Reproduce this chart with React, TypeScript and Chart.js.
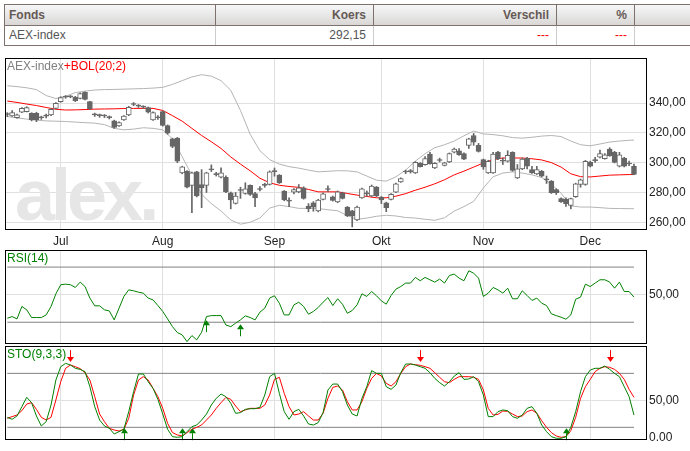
import React, { useEffect, useRef } from "react";
import { Chart, registerables } from "chart.js";

Chart.register(...registerables);

const FONT = '"Liberation Sans", Arial, Helvetica, sans-serif';

// ---------------- data ----------------
const monthLabels = ["Jul", "Aug", "Sep", "Okt", "Nov", "Dec"];
const monthTickIdx = [11, 32, 55, 77, 98, 120];

const opens = [
  332.5, 331.3, 330.2, 333.8, 334.2, 333.1, 333.1, 330.3, 331.2, 332.0,
  336.4, 340.9, 344.0, 344.3, 343.8, 343.1, 347.1, 340.9, 332.2, 331.6,
  331.3, 330.3, 328.0, 324.7, 328.7, 332.0, 339.0, 338.0, 337.4, 336.9,
  328.7, 330.3, 334.2, 324.9, 316.0, 316.4, 293.1, 294.2, 284.7, 293.8,
  285.3, 284.7, 295.2, 292.0, 290.2, 290.2, 279.8, 272.7, 281.3, 279.3,
  284.7, 279.3, 282.0, 284.7, 285.3, 294.0, 291.6, 280.9, 274.4, 280.2,
  280.4, 283.1, 270.9, 273.1, 267.6, 275.3, 282.0, 277.1, 273.6, 279.8,
  270.2, 267.6, 261.6, 276.4, 279.2, 277.6, 283.6, 276.9, 273.1, 275.3,
  280.2, 287.1, 293.7, 294.2, 293.1, 299.6, 298.7, 305.8, 296.4, 301.4,
  298.2, 300.4, 307.1, 308.0, 306.0, 311.6, 318.2, 311.6, 302.0, 293.1,
  293.1, 307.1, 300.9, 300.9, 306.9, 289.8, 295.8, 302.9, 295.3, 292.4,
  294.2, 288.7, 287.6, 282.0, 275.8, 275.3, 271.3, 277.1, 285.3, 285.3,
  300.4, 301.3, 303.6, 302.7, 309.1, 306.9, 297.6, 303.1, 299.2, 297.6,
];
const highs = [
  333.5, 335.0, 332.5, 337.0, 337.5, 333.5, 333.8, 331.2, 332.5, 336.2,
  340.3, 344.2, 345.0, 345.0, 344.5, 346.8, 347.5, 341.2, 333.2, 332.6,
  332.3, 331.3, 328.5, 327.3, 331.6, 337.8, 340.3, 339.0, 338.2, 337.3,
  334.0, 331.5, 334.6, 325.3, 316.4, 316.9, 297.6, 294.6, 293.6, 294.2,
  295.3, 293.6, 298.5, 293.5, 296.5, 291.2, 280.3, 280.0, 283.5, 286.5,
  285.1, 280.0, 284.0, 286.2, 294.5, 296.4, 292.0, 281.3, 276.4, 282.6,
  285.3, 283.8, 272.5, 273.8, 275.4, 279.8, 284.5, 277.6, 281.0, 280.2,
  270.6, 268.0, 270.8, 283.0, 281.0, 285.0, 284.0, 277.3, 273.5, 279.2,
  286.2, 289.8, 295.0, 295.4, 300.7, 300.0, 304.0, 306.9, 300.0, 303.0,
  300.2, 306.5, 309.8, 309.5, 306.5, 316.4, 319.6, 312.9, 302.4, 301.6,
  306.9, 307.6, 303.1, 308.0, 307.3, 298.7, 303.1, 303.5, 297.6, 297.5,
  294.8, 291.0, 288.0, 282.5, 276.4, 276.4, 276.2, 286.2, 289.0, 301.5,
  301.0, 303.5, 308.5, 306.0, 310.0, 307.6, 306.9, 303.6, 301.0, 299.0,
];
const lows = [
  330.8, 331.0, 329.8, 333.5, 334.0, 328.0, 327.5, 329.0, 330.0, 331.5,
  336.0, 340.5, 343.2, 343.5, 341.0, 342.8, 342.0, 335.5, 331.0, 330.4,
  330.2, 329.3, 323.0, 324.3, 328.3, 331.5, 338.2, 337.0, 336.4, 333.3,
  328.3, 329.0, 324.5, 319.0, 310.0, 300.0, 292.5, 283.0, 266.4, 277.0,
  269.8, 280.0, 294.0, 291.0, 289.8, 279.8, 269.0, 272.2, 276.0, 278.8,
  278.0, 270.4, 281.0, 283.5, 285.0, 290.9, 286.0, 274.4, 270.5, 279.0,
  279.8, 275.5, 267.0, 267.4, 267.0, 274.9, 280.5, 274.2, 273.1, 275.6,
  263.8, 256.9, 261.0, 276.0, 277.5, 277.2, 277.2, 272.5, 267.1, 275.0,
  279.9, 286.7, 292.6, 293.0, 292.7, 297.0, 298.3, 298.9, 296.0, 300.4,
  297.8, 300.0, 306.5, 304.9, 302.0, 309.5, 311.6, 307.1, 295.5, 292.7,
  292.7, 302.0, 298.7, 300.4, 294.2, 289.3, 295.3, 295.8, 292.7, 292.0,
  290.4, 286.0, 279.3, 278.6, 273.3, 270.6, 269.0, 276.7, 283.5, 284.8,
  297.1, 300.2, 303.1, 302.3, 304.2, 299.8, 297.1, 297.1, 298.0, 292.0,
];
const closes = [
  332.3, 333.6, 332.0, 336.4, 336.9, 328.7, 328.7, 330.1, 331.4, 335.8,
  339.8, 343.6, 344.3, 344.1, 341.6, 346.4, 342.4, 336.0, 332.0, 331.5,
  331.4, 330.2, 323.6, 326.9, 331.3, 337.1, 339.2, 337.9, 337.2, 333.8,
  333.6, 330.1, 324.9, 319.8, 310.9, 300.9, 297.1, 283.6, 293.1, 277.6,
  283.1, 293.1, 295.4, 292.2, 293.1, 280.4, 274.9, 277.6, 281.5, 282.4,
  278.7, 276.4, 282.2, 284.9, 293.8, 294.3, 286.4, 274.9, 274.2, 282.0,
  283.1, 276.0, 269.1, 270.2, 274.9, 279.1, 282.2, 274.7, 280.4, 276.0,
  264.2, 264.2, 270.2, 282.4, 279.0, 284.2, 277.6, 274.9, 269.8, 278.7,
  285.8, 289.3, 293.9, 294.0, 300.2, 297.3, 302.7, 299.3, 299.6, 301.6,
  299.8, 306.0, 309.1, 305.3, 302.4, 316.0, 313.8, 307.6, 297.1, 300.9,
  305.8, 302.7, 301.1, 304.9, 294.7, 295.8, 302.4, 297.6, 293.1, 295.3,
  290.9, 288.4, 279.8, 279.8, 273.8, 272.4, 275.8, 285.8, 288.4, 300.9,
  297.6, 301.5, 306.0, 305.3, 304.7, 300.2, 305.3, 297.6, 299.1, 292.15,
];

const bandIdx = [
  0, 2, 4, 6, 8, 10, 12, 14, 16, 18, 20, 22, 24, 26, 28, 30, 32, 34, 36, 38,
  40, 42, 44, 46, 48, 50, 52, 54, 56, 58, 60, 62, 64, 66, 68, 70, 72, 74, 76, 78,
  80, 82, 84, 86, 88, 90, 92, 94, 96, 98, 100, 102, 104, 106, 108, 110, 112, 114, 116, 118,
  120, 122, 124, 126, 128, 129,
];
const bolUpper = [
  351.6, 351.0, 350.2, 349.0, 345.0, 343.0, 344.5, 347.0, 348.0, 348.7,
  349.0, 349.1, 349.3, 349.5, 349.7, 350.0, 350.5, 352.5, 355.0, 357.5,
  359.0, 358.0, 355.0, 348.5, 335.0, 319.0, 308.0, 302.0, 299.0, 297.3,
  296.3, 295.0, 293.8, 294.2, 294.6, 294.5, 293.8, 291.0, 288.2, 287.6,
  290.5, 295.0, 301.0, 306.0, 310.0, 312.0, 314.5, 318.0, 321.2, 319.3,
  318.8, 318.0, 316.8, 316.4, 317.0, 317.8, 318.2, 317.5, 314.5, 312.0,
  311.3, 312.5, 313.8, 314.5, 315.0, 315.1,
];
const bolMiddle = [
  341.3, 340.4, 339.3, 338.3, 337.0, 335.8, 335.3, 335.4, 335.6, 335.9,
  336.0, 336.1, 336.3, 336.4, 336.4, 336.4, 335.0, 331.5, 327.8, 323.0,
  318.2, 314.0, 309.5, 303.8, 299.0, 294.5, 289.5, 286.5, 284.8, 284.0,
  283.4, 282.0, 280.4, 280.4, 280.4, 279.3, 278.2, 277.3, 276.4, 276.4,
  277.5, 279.2, 281.5, 283.5, 285.8, 288.5, 291.8, 294.3, 297.0, 299.8,
  302.0, 303.1, 303.1, 303.1, 302.6, 301.8, 300.0, 297.0, 292.5, 290.6,
  290.4, 291.0, 291.6, 291.8, 292.0, 292.0,
];
const bolLower = [
  330.9, 330.0, 329.2, 328.5, 328.0, 327.8, 327.6, 327.2, 326.8, 326.5,
  325.5, 323.0, 322.0, 322.5, 323.4, 323.0, 322.0, 316.0, 304.0, 291.5,
  278.7, 272.5, 267.5, 261.5, 258.7, 260.0, 262.8, 269.5, 271.4, 270.5,
  269.3, 269.3, 269.2, 268.4, 267.7, 264.5, 262.0, 262.8, 264.0, 264.7,
  264.2, 263.2, 262.8, 262.0, 261.3, 263.0, 267.5, 270.5, 274.0, 283.0,
  290.5, 293.0, 293.8, 293.0, 291.8, 290.0, 285.5, 279.5, 271.0, 270.2,
  270.2, 269.8, 269.3, 269.2, 269.1, 269.1,
];

const rsi14 = [
  32.9, 34.1, 32.4, 41.4, 39.0, 33.4, 33.4, 33.4, 35.3, 41.4,
  50.6, 57.2, 57.6, 57.2, 55.2, 59.1, 55.9, 47.5, 41.9, 41.9,
  39.0, 38.2, 31.7, 40.2, 48.7, 53.5, 52.8, 51.8, 51.1, 47.5,
  46.2, 42.1, 37.8, 32.4, 26.8, 22.5, 20.8, 15.9, 20.3, 17.2,
  22.7, 34.1, 34.8, 34.8, 34.8, 28.0, 26.8, 29.3, 31.7, 34.6,
  33.4, 31.7, 37.3, 40.2, 47.5, 49.2, 43.8, 35.3, 35.3, 42.6,
  44.5, 41.4, 35.8, 37.8, 40.7, 44.5, 47.9, 42.1, 47.0, 43.0,
  36.5, 38.5, 42.6, 50.6, 48.7, 52.3, 49.2, 45.5, 43.1, 49.4,
  54.0, 55.9, 58.4, 58.4, 62.5, 60.1, 62.5, 60.8, 59.1, 61.3,
  58.4, 63.9, 64.9, 62.0, 60.1, 67.3, 65.6, 62.0, 48.7, 51.1,
  55.2, 53.5, 51.1, 54.7, 47.0, 47.0, 52.8, 49.4, 45.8, 47.5,
  43.8, 42.1, 36.1, 34.8, 33.6, 32.2, 35.3, 46.7, 48.2, 57.6,
  55.9, 58.4, 60.8, 60.8, 59.1, 54.7, 59.1, 52.3, 52.3, 48.2,
];
const stoK = [
  31.1, 28.9, 32.6, 43.0, 53.3, 47.4, 32.6, 21.5, 26.3, 44.8,
  72.6, 87.4, 91.1, 89.3, 85.6, 84.4, 81.9, 65.2, 43.0, 28.1,
  21.5, 18.9, 12.6, 15.2, 17.8, 37.4, 59.6, 79.3, 79.3, 70.7,
  63.3, 51.1, 34.8, 17.8, 9.6, 8.9, 9.6, 15.2, 20.7, 22.6,
  28.1, 34.8, 44.8, 52.2, 57.0, 54.1, 46.7, 35.6, 36.3, 40.0,
  40.7, 40.7, 42.2, 55.9, 76.3, 80.0, 57.8, 37.4, 28.9, 37.4,
  40.0, 32.6, 23.7, 22.6, 25.2, 36.3, 61.5, 68.1, 68.1, 59.6,
  44.8, 34.8, 32.6, 52.2, 65.2, 83.0, 80.0, 80.0, 65.2, 62.2,
  67.0, 80.7, 90.4, 90.4, 89.3, 87.4, 85.6, 80.7, 74.4, 69.6,
  65.9, 70.7, 77.0, 80.7, 73.3, 73.7, 76.3, 70.7, 55.9, 31.9,
  31.9, 37.4, 39.3, 38.5, 31.9, 30.0, 33.7, 41.1, 43.0, 35.6,
  22.6, 15.2, 9.6, 7.8, 7.8, 9.6, 20.0, 37.4, 59.6, 76.3,
  83.7, 85.6, 85.6, 88.1, 84.4, 80.0, 76.3, 65.2, 54.1, 33.7,
];
const stoD = [
  30.0, 31.9, 33.7, 38.5, 45.9, 47.4, 40.0, 31.1, 28.1, 31.1,
  50.4, 70.7, 85.6, 89.3, 87.4, 85.2, 80.7, 72.6, 54.1, 34.8,
  26.3, 18.9, 17.0, 15.9, 17.8, 30.0, 55.9, 72.6, 76.3, 72.6,
  63.3, 54.1, 41.1, 24.4, 14.1, 11.5, 10.4, 14.1, 17.8, 20.0,
  22.6, 28.1, 33.7, 41.1, 47.4, 53.3, 51.1, 43.7, 37.4, 39.3,
  41.1, 41.1, 41.1, 44.8, 55.9, 73.3, 75.6, 57.8, 43.0, 33.7,
  34.8, 37.4, 32.6, 28.1, 28.1, 35.6, 52.2, 64.4, 65.9, 61.5,
  48.5, 39.3, 39.3, 48.5, 63.3, 74.4, 80.0, 77.0, 68.9, 65.9,
  70.7, 80.0, 87.4, 90.4, 89.6, 88.9, 87.4, 85.6, 80.7, 75.6,
  70.7, 69.6, 73.3, 76.3, 76.3, 76.3, 75.6, 73.3, 61.5, 41.1,
  33.7, 34.4, 38.1, 37.8, 34.8, 31.9, 32.6, 37.4, 39.3, 35.6,
  27.4, 20.0, 14.1, 10.4, 8.9, 9.6, 16.3, 31.1, 52.2, 65.2,
  73.3, 81.9, 85.6, 87.4, 86.7, 84.4, 80.0, 73.3, 62.2, 53.3,
];

const priceTicks = [260, 280, 300, 320, 340];
const oscTicks = [50];
const rsiLevels = [30, 70];
const stoLevels = [20, 80];
const rsiBuyIdx = [41, 48];
const rsiBuyTip = [31.5, 28.5];
const stoBuyIdx = [24, 36, 38, 115];
const stoSellIdx = [13, 85, 124];
const stoBuyTip = 19;
const stoSellTip = 92.5;

const tableHead = ["Fonds", "Koers", "Verschil", "%", ""];
const tableRow = ["AEX-index", "292,15", "---", "---", ""];

// ---------------- helpers ----------------
const X_MIN = -0.473;
const X_MAX = 131.68;
const fmt = (v: number) => v.toFixed(2).replace(".", ",");

function xScale(showLabels: boolean) {
  return {
    type: "linear",
    min: X_MIN,
    max: X_MAX,
    offset: false,
    afterBuildTicks: (s: any) => {
      s.ticks = monthTickIdx.map((v) => ({ value: v }));
    },
    afterFit: (s: any) => {
      s.height = showLabels ? 20 : 0;
      s.paddingLeft = 0;
      s.paddingRight = 0;
    },
    grid: { color: "#e0e0e0", drawTicks: false, offset: false, lineWidth: 1 },
    border: { display: false },
    ticks: {
      display: showLabels,
      autoSkip: false,
      maxRotation: 0,
      padding: 4,
      color: "#222",
      font: { family: FONT, size: 12 },
      callback: (_v: any, i: number) => monthLabels[i],
    },
  };
}

function yScale(min: number, max: number, ticks: number[]) {
  return {
    type: "linear",
    position: "right",
    min,
    max,
    afterBuildTicks: (s: any) => {
      s.ticks = ticks.map((v) => ({ value: v }));
    },
    afterFit: (s: any) => {
      s.width = 43;
      s.paddingTop = 0;
      s.paddingBottom = 0;
    },
    grid: { color: "#e0e0e0", drawTicks: false, lineWidth: 1 },
    border: { display: false },
    ticks: {
      padding: 2,
      color: "#222",
      font: { family: FONT, size: 12 },
      callback: (v: any) => fmt(Number(v)),
    },
  };
}

const framePlugin = {
  id: "frame",
  afterDraw(chart: any) {
    const { ctx, chartArea: a } = chart;
    ctx.save();
    ctx.strokeStyle = "#000";
    ctx.lineWidth = 1;
    ctx.strokeRect(
      Math.round(a.left) + 0.5,
      Math.round(a.top) + 0.5,
      Math.round(a.right - a.left) - 1,
      Math.round(a.bottom - a.top) - 1
    );
    ctx.restore();
  },
};

function titlePlugin(parts: { text: string; color: string }[]) {
  return {
    id: "panelTitle",
    afterDraw(chart: any) {
      const { ctx, chartArea: a } = chart;
      ctx.save();
      ctx.font = `12px ${FONT}`;
      ctx.textBaseline = "alphabetic";
      ctx.textAlign = "left";
      let x = a.left + 2;
      for (const p of parts) {
        ctx.fillStyle = p.color;
        ctx.fillText(p.text, x, a.top + 12);
        x += ctx.measureText(p.text).width;
      }
      ctx.restore();
    },
  };
}

const watermarkPlugin = {
  id: "watermark",
  beforeDatasetsDraw(chart: any) {
    const { ctx, chartArea: a } = chart;
    ctx.save();
    ctx.font = `bold 72px ${FONT}`;
    (ctx as any).letterSpacing = "-4px";
    ctx.fillStyle = "#e6e6e6";
    ctx.textBaseline = "alphabetic";
    ctx.fillText("alex.", a.left + 10, a.bottom - 10);
    ctx.restore();
  },
};

type ArrowSpec = { x: number; y: number; dir: number; color: string };
function arrowPlugin(arrows: ArrowSpec[]) {
  return {
    id: "arrows",
    afterDatasetsDraw(chart: any) {
      const { ctx } = chart;
      const xs = chart.scales.x;
      const ys = chart.scales.y;
      ctx.save();
      for (const ar of arrows) {
        const px = Math.round(xs.getPixelForValue(ar.x)) + 0.5;
        const tip = ys.getPixelForValue(ar.y);
        const len = 12;
        const hh = 5;
        const hw = 3.5;
        ctx.strokeStyle = ar.color;
        ctx.fillStyle = ar.color;
        ctx.lineWidth = 1;
        ctx.beginPath();
        ctx.moveTo(px, tip - ar.dir * len);
        ctx.lineTo(px, tip - ar.dir * hh);
        ctx.stroke();
        ctx.beginPath();
        ctx.moveTo(px, tip);
        ctx.lineTo(px - hw, tip - ar.dir * hh);
        ctx.lineTo(px + hw, tip - ar.dir * hh);
        ctx.closePath();
        ctx.fill();
      }
      ctx.restore();
    },
  };
}

const zeroLabelPlugin = {
  id: "zeroLabel",
  afterDraw(chart: any) {
    const { ctx, chartArea: a } = chart;
    ctx.save();
    ctx.font = `12px ${FONT}`;
    ctx.fillStyle = "#222";
    ctx.textAlign = "left";
    ctx.textBaseline = "middle";
    ctx.fillText("0.00", a.right + 2, a.bottom - 2);
    ctx.restore();
  },
};

function levelDatasets(levels: number[]) {
  return levels.map((lv) => ({
    type: "line",
    data: [
      { x: 0, y: lv },
      { x: opens.length - 1, y: lv },
    ],
    borderColor: "#808080",
    borderWidth: 1,
    pointRadius: 0,
  }));
}

function lineDs(xsArr: number[], ysArr: number[], color: string) {
  return {
    type: "line",
    data: xsArr.map((x, k) => ({ x, y: ysArr[k] })),
    borderColor: color,
    borderWidth: 1,
    pointRadius: 0,
    tension: 0,
  };
}

const baseOptions = (padding: any) => ({
  responsive: false,
  animation: false,
  events: [],
  layout: { padding },
  plugins: { legend: { display: false }, tooltip: { enabled: false } },
});

export default function App() {
  const mainRef = useRef<HTMLCanvasElement>(null);
  const rsiRef = useRef<HTMLCanvasElement>(null);
  const stoRef = useRef<HTMLCanvasElement>(null);

  useEffect(() => {
    const charts: Chart[] = [];
    const dayIdx = opens.map((_, i) => i);
    const isBull = (i: number) => closes[i] - opens[i] > 0.5;

    if (mainRef.current) {
      charts.push(
        new Chart(mainRef.current, {
          type: "bar",
          data: {
            datasets: [
              {
                type: "bar",
                data: dayIdx.map((i) => ({
                  x: i,
                  y: [Math.min(opens[i], closes[i]), Math.max(opens[i], closes[i])],
                })),
                backgroundColor: dayIdx.map((i) => (isBull(i) ? "#ffffff" : "#666666")),
                borderColor: "#666666",
                borderWidth: 1,
                borderSkipped: false,
                barThickness: 5,
                minBarLength: 1,
                grouped: false,
              },
              {
                type: "bar",
                data: dayIdx.map((i) => ({ x: i, y: [lows[i], highs[i]] })),
                backgroundColor: "#666666",
                borderWidth: 0,
                barThickness: 1,
                grouped: false,
              },
              lineDs(bandIdx, bolMiddle, "#ff0000"),
              lineDs(bandIdx, bolUpper, "#b4b4b4"),
              lineDs(bandIdx, bolLower, "#b4b4b4"),
            ] as any,
          },
          options: {
            ...baseOptions({ left: 5, top: 8, right: 0, bottom: 0 }),
            scales: {
              x: xScale(true),
              y: yScale(254.8, 370.2, priceTicks),
            },
          } as any,
          plugins: [
            watermarkPlugin,
            framePlugin,
            titlePlugin([
              { text: "AEX-index", color: "#808080" },
              { text: "+BOL(20;2)", color: "#ff0000" },
            ]),
          ],
        })
      );
    }

    if (rsiRef.current) {
      charts.push(
        new Chart(rsiRef.current, {
          type: "line",
          data: {
            datasets: [
              lineDs(dayIdx, rsi14, "#008000"),
              ...levelDatasets(rsiLevels),
            ] as any,
          },
          options: {
            ...baseOptions({ left: 5, top: 0, right: 0, bottom: 1 }),
            scales: {
              x: xScale(false),
              y: yScale(14.2, 82.4, oscTicks),
            },
          } as any,
          plugins: [
            framePlugin,
            titlePlugin([{ text: "RSI(14)", color: "#008000" }]),
            arrowPlugin(
              rsiBuyIdx.map((i, k) => ({ x: i, y: rsiBuyTip[k], dir: -1, color: "#008000" }))
            ),
          ],
        })
      );
    }

    if (stoRef.current) {
      charts.push(
        new Chart(stoRef.current, {
          type: "line",
          data: {
            datasets: [
              lineDs(dayIdx, stoK, "#008000"),
              lineDs(dayIdx, stoD, "#ff0000"),
              ...levelDatasets(stoLevels),
            ] as any,
          },
          options: {
            ...baseOptions({ left: 5, top: 1, right: 0, bottom: 11 }),
            scales: {
              x: xScale(false),
              y: yScale(5.9, 110.4, oscTicks),
            },
          } as any,
          plugins: [
            framePlugin,
            zeroLabelPlugin,
            titlePlugin([{ text: "STO(9,3,3)", color: "#008000" }]),
            arrowPlugin([
              ...stoBuyIdx.map((i) => ({ x: i, y: stoBuyTip, dir: -1, color: "#008000" })),
              ...stoSellIdx.map((i) => ({ x: i, y: stoSellTip, dir: 1, color: "#ff0000" })),
            ]),
          ],
        })
      );
    }

    return () => charts.forEach((c) => c.destroy());
  }, []);

  const dividers = [215, 373, 556, 634];
  const cellBounds = [5, 215, 373, 556, 634, 690];
  const border = "#7c716c";

  return (
    <div
      style={{
        position: "absolute",
        left: 0,
        top: 0,
        width: 690,
        height: 451,
        background: "#fff",
        overflow: "hidden",
        fontFamily: FONT,
      }}
    >
      {/* table */}
      <div
        style={{
          position: "absolute",
          left: 4,
          top: 4,
          width: 700,
          height: 42,
          boxSizing: "border-box",
          border: `1px solid ${border}`,
          background: "#fff",
        }}
      />
      <div
        style={{
          position: "absolute",
          left: 5,
          top: 5,
          width: 690,
          height: 20,
          background: "linear-gradient(#f7f7f7, #e8e8e8 50%, #d9d7d5)",
          borderBottom: `1px solid ${border}`,
        }}
      />
      {dividers.map((x) => (
        <React.Fragment key={x}>
          <div style={{ position: "absolute", left: x, top: 5, width: 1, height: 20, background: border }} />
          <div style={{ position: "absolute", left: x, top: 26, width: 1, height: 19, background: "#cccccc" }} />
        </React.Fragment>
      ))}
      {tableHead.map((t, k) => (
        <div
          key={"h" + k}
          style={{
            position: "absolute",
            left: cellBounds[k],
            width: cellBounds[k + 1] - cellBounds[k] - (k === 0 ? 0 : 1),
            top: 5,
            height: 20,
            lineHeight: "20px",
            fontSize: 12,
            fontWeight: "bold",
            color: "#665a55",
            textAlign: k === 0 ? "left" : "right",
            paddingLeft: k === 0 ? 4 : 0,
            paddingRight: k === 0 ? 0 : 6,
            boxSizing: "border-box",
            whiteSpace: "nowrap",
          }}
        >
          {t}
        </div>
      ))}
      {tableRow.map((t, k) => (
        <div
          key={"r" + k}
          style={{
            position: "absolute",
            left: cellBounds[k],
            width: cellBounds[k + 1] - cellBounds[k] - (k === 0 ? 0 : 1),
            top: 26,
            height: 19,
            lineHeight: "19px",
            fontSize: 12,
            color: t === "---" ? "#ff0000" : "#555555",
            textAlign: k === 0 ? "left" : "right",
            paddingLeft: k === 0 ? 4 : 0,
            paddingRight: k === 0 ? 0 : 6,
            boxSizing: "border-box",
            whiteSpace: "nowrap",
          }}
        >
          {t}
        </div>
      ))}

      <canvas ref={mainRef} width={690} height={200} style={{ position: "absolute", left: 0, top: 50 }} />
      <canvas ref={rsiRef} width={690} height={95} style={{ position: "absolute", left: 0, top: 250 }} />
      <canvas ref={stoRef} width={690} height={106} style={{ position: "absolute", left: 0, top: 345 }} />
    </div>
  );
}
